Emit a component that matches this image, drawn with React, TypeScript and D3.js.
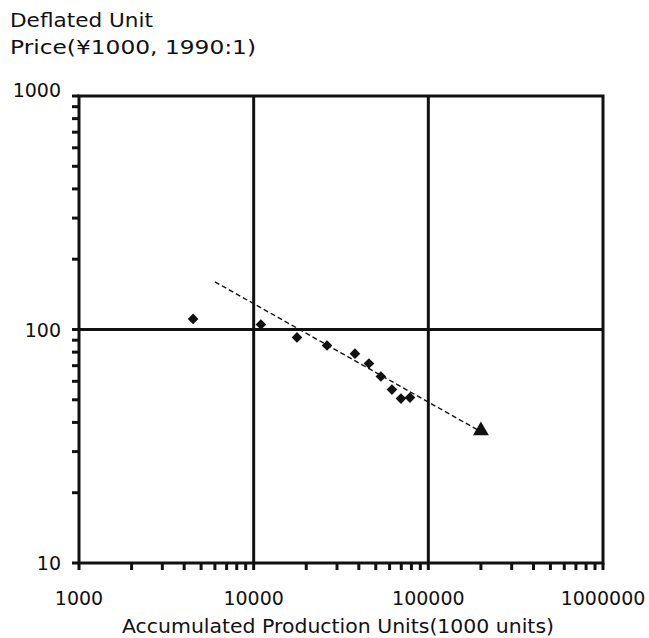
import React from "react";
import * as d3 from "d3";

const xDomain = [1000, 1000000];
const yDomain = [10, 1000];
const xTickLabels = ["1000", "10000", "100000", "1000000"];
const yTickLabels = ["10", "100", "1000"];
const accumUnits = [4500, 11000, 17700, 26300, 38000, 45700, 53500, 61900, 69700, 78500];
const unitPrice = [111, 105, 92.5, 85.4, 78.8, 71.5, 62.9, 55.3, 50.6, 51.1];
const trendX = [6000, 200000];
const trendY = [160, 36.5];
const forecastX = [200000];
const forecastY = [36.5];

const W = 649, H = 638;
const L = 79, R = 603, T = 96, B = 563;
const FONT = "'DejaVu Sans', Arial, sans-serif";

export default function App() {
  const x = d3.scaleLog().domain(xDomain).range([L, R]);
  const y = d3.scaleLog().domain(yDomain).range([B, T]);
  const majorX = xTickLabels.map(Number);
  const majorY = yTickLabels.map(Number);
  const minorX: number[] = [];
  for (let d = 1000; d < 1000000; d *= 10) for (let k = 2; k <= 9; k++) minorX.push(d * k);
  const minorY: number[] = [];
  for (let d = 10; d < 1000; d *= 10) for (let k = 2; k <= 9; k++) minorY.push(d * k);
  const diamond = d3.symbol().type(d3.symbolDiamond2).size(72)();
  const tri = d3.symbol().type(d3.symbolTriangle).size(110)();
  const line = d3.line<number>().x((_, i) => x(trendX[i])).y((_, i) => y(trendY[i]));
  return (
    <svg width={W} height={H} style={{ position: "absolute", left: 0, top: 0, background: "#fff" }} fontFamily={FONT}>
      <text x={10} y={27} fontSize={19} fill="#111" textLength={143} lengthAdjust="spacingAndGlyphs">Deflated Unit</text>
      <text x={10} y={54} fontSize={19} fill="#111" textLength={246} lengthAdjust="spacingAndGlyphs">Price(¥1000, 1990:1)</text>
      {/* grid */}
      {majorX.slice(1, -1).map((v) => (
        <line key={"gx" + v} x1={x(v)} x2={x(v)} y1={T} y2={B} stroke="#111" strokeWidth={3} />
      ))}
      {majorY.slice(1, -1).map((v) => (
        <line key={"gy" + v} x1={L} x2={R} y1={y(v)} y2={y(v)} stroke="#111" strokeWidth={3} />
      ))}
      {/* ticks */}
      {minorX.concat(majorX).map((v) => (
        <line key={"tx" + v} x1={x(v)} x2={x(v)} y1={B} y2={B + 7} stroke="#111" strokeWidth={3} />
      ))}
      {minorY.concat(majorY).map((v) => (
        <line key={"ty" + v} x1={L - 7} x2={L} y1={y(v)} y2={y(v)} stroke="#111" strokeWidth={3} />
      ))}
      <rect x={L} y={T} width={R - L} height={B - T} fill="none" stroke="#111" strokeWidth={3} />
      {/* tick labels */}
      {majorX.map((v, i) => (
        <text key={"lx" + v} x={x(v)} y={605} fontSize={19} textAnchor="middle" fill="#111">{xTickLabels[i]}</text>
      ))}
      {majorY.map((v, i) => (
        <text key={"ly" + v} x={61} y={y(v) + (i === majorY.length - 1 ? 1 : 7)} fontSize={19} textAnchor="end" fill="#111">{yTickLabels[i]}</text>
      ))}
      <text x={338} y={633} fontSize={19} textAnchor="middle" fill="#111" textLength={432} lengthAdjust="spacingAndGlyphs">Accumulated Production Units(1000 units)</text>
      {/* trend */}
      <path d={line([0, 1]) || ""} fill="none" stroke="#111" strokeWidth={1.4} strokeDasharray="5,3" />
      {accumUnits.map((v, i) => (
        <path key={"p" + i} d={diamond || ""} transform={`translate(${x(v)},${y(unitPrice[i])})`} fill="#111" />
      ))}
      {forecastX.map((v, i) => (
        <path key={"f" + i} d={tri || ""} transform={`translate(${x(v)},${y(forecastY[i]) - 1})`} fill="#111" />
      ))}
    </svg>
  );
}
